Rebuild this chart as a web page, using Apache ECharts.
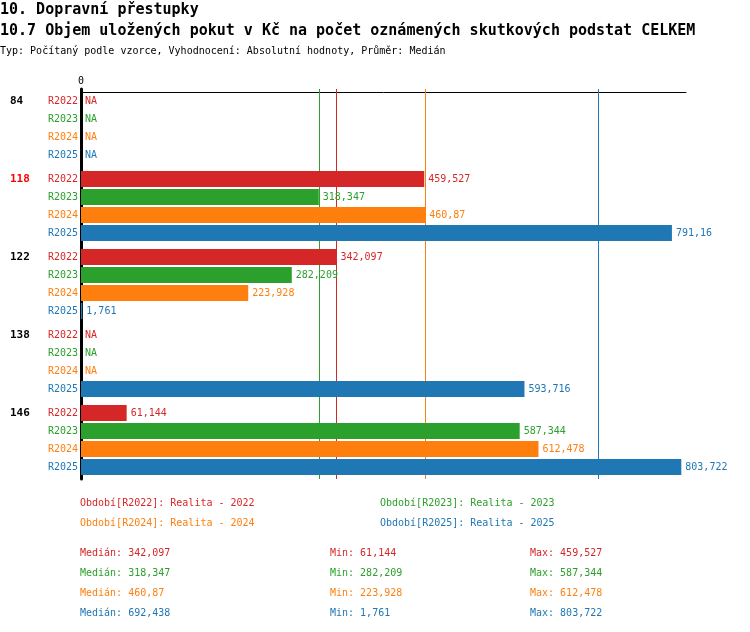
<!DOCTYPE html>
<html>
<head>
<meta charset="utf-8">
<script src="https://cdn.jsdelivr.net/npm/echarts@6/dist/echarts.min.js"></script>
<style>
html,body{margin:0;padding:0;background:#fff;}
#chart{width:750px;height:632px;}
</style>
</head>
<body>
<div id="chart"></div>
<script>
// ---- data ----
const titleMain = '10. Dopravní přestupky';
const titleSub = '10.7 Objem uložených pokut v Kč na počet oznámených skutkových podstat CELKEM';
const titleInfo = 'Typ: Počítaný podle vzorce, Vyhodnocení: Absolutní hodnoty, Průměr: Medián';
const categories = ['84', '118', '122', '138', '146'];
const highlighted = '118';
const periods = ['R2022', 'R2023', 'R2024', 'R2025'];
const periodNames = [
  'Období[R2022]: Realita - 2022',
  'Období[R2023]: Realita - 2023',
  'Období[R2024]: Realita - 2024',
  'Období[R2025]: Realita - 2025'
];
const r2022 = [null, 459.527, 342.097, null, 61.144];
const r2023 = [null, 318.347, 282.209, null, 587.344];
const r2024 = [null, 460.87, 223.928, null, 612.478];
const r2025 = [null, 791.16, 1.761, 593.716, 803.722];
const xTickLabels = [0];
const xMax = 810;

// ---- style ----
const colors = ['#d62728', '#2ca02c', '#ff7f0e', '#1f77b4'];
const FONT = '"DejaVu Sans Mono", "Liberation Mono", monospace';
const values = [r2022, r2023, r2024, r2025];

function fmt(v) {
  return String(parseFloat(v.toFixed(3))).replace('.', ',');
}
function stats(arr) {
  const a = arr.filter(v => v != null).slice().sort((x, y) => x - y);
  const n = a.length;
  const med = n % 2 ? a[(n - 1) / 2] : (a[n / 2 - 1] + a[n / 2]) / 2;
  return { med: med, min: a[0], max: a[n - 1] };
}
const st = values.map(stats);

const series = [];
values.forEach((vals, k) => {
  // row label series (zero-width bar, label on the left of the axis) + median line
  series.push({
    type: 'bar',
    name: periods[k],
    stack: 's' + k,
    barWidth: 16,
    barGap: '12.5%',
    z: 1,
    silent: true,
    data: categories.map(() => 0),
    itemStyle: { color: 'rgba(0,0,0,0)' },
    label: {
      show: true, position: 'left', distance: 3,
      formatter: periods[k],
      color: colors[k], fontFamily: FONT, fontSize: 10
    },
    markLine: {
      silent: true,
      z: 1,
      symbol: ['none', 'none'],
      label: { show: false },
      lineStyle: { color: colors[k], width: 1, type: 'solid', opacity: 1 },
      emphasis: { disabled: true },
      data: [{ xAxis: st[k].med }]
    }
  });
  series.push({
    type: 'bar',
    name: periodNames[k],
    stack: 's' + k,
    barWidth: 16,
    barGap: '12.5%',
    z: 3,
    data: vals.map(v => (v == null ? 0 : v)),
    itemStyle: { color: colors[k] },
    emphasis: { disabled: true },
    label: {
      show: true, position: 'right', distance: 4,
      formatter: p => (vals[p.dataIndex] == null ? 'NA' : fmt(vals[p.dataIndex])),
      color: colors[k], fontFamily: FONT, fontSize: 10
    }
  });
});

const graphics = [];
st.forEach((s, k) => {
  const y = 553 + 20 * k;
  [['Medián: ' + fmt(s.med), 80], ['Min: ' + fmt(s.min), 330], ['Max: ' + fmt(s.max), 530]].forEach(([t, x]) => {
    graphics.push({
      type: 'text', x: x, y: y,
      style: { text: t, fill: colors[k], font: '10px ' + FONT, verticalAlign: 'middle' }
    });
  });
});

const chart = echarts.init(document.getElementById('chart'), null, { renderer: 'canvas' });
chart.setOption({
  animation: false,
  backgroundColor: '#fff',
  title: [
    { text: titleMain, left: 0, top: 3, padding: 0, textStyle: { fontFamily: FONT, fontSize: 15, fontWeight: 'bold', color: '#000' } },
    { text: titleSub, left: 0, top: 24, padding: 0, textStyle: { fontFamily: FONT, fontSize: 15, fontWeight: 'bold', color: '#000' } },
    { text: titleInfo, left: 0, top: 46, padding: 0, textStyle: { fontFamily: FONT, fontSize: 10, fontWeight: 'normal', color: '#000' } }
  ],
  legend: periodNames.map((n, k) => ({
    data: [n],
    left: (k % 2 === 0) ? 75 : 375,
    top: 498 + 20 * Math.floor(k / 2),
    padding: 0,
    icon: 'none',
    itemWidth: 0,
    itemHeight: 10,
    selectedMode: false,
    textStyle: { color: colors[k], fontFamily: FONT, fontSize: 10 }
  })),
  grid: { left: 81, top: 89, width: 605, height: 390, containLabel: false },
  xAxis: {
    type: 'value',
    position: 'top',
    offset: -3,
    min: 0, max: xMax, interval: xMax,
    axisLine: { show: true, lineStyle: { color: '#000', width: 1 } },
    axisTick: { show: false },
    splitLine: { show: false },
    axisLabel: {
      margin: 6,
      formatter: v => (xTickLabels.indexOf(v) >= 0 ? String(v) : ''),
      fontFamily: FONT, fontSize: 10, color: '#000'
    }
  },
  yAxis: {
    type: 'category',
    data: categories,
    inverse: true,
    axisLine: { show: true, lineStyle: { color: '#000', width: 3 } },
    axisTick: { show: false },
    splitLine: { show: false },
    axisLabel: {
      align: 'left',
      margin: 71,
      padding: [0, 0, 54, 0],
      fontFamily: FONT, fontSize: 11, fontWeight: 'bold', color: '#000',
      formatter: v => (v === highlighted ? '{h|' + v + '}' : v),
      rich: { h: { color: '#ff0000', fontFamily: FONT, fontSize: 11, fontWeight: 'bold' } }
    }
  },
  series: series,
  graphic: graphics
});
</script>
</body>
</html>
